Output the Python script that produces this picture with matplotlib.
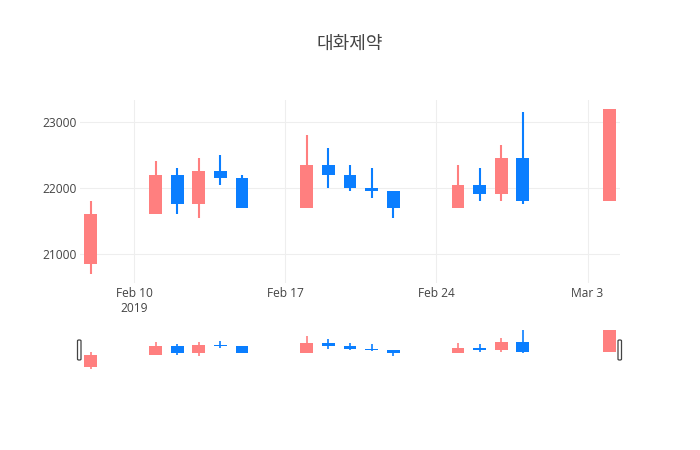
import matplotlib
matplotlib.use("Agg")
import matplotlib.pyplot as plt
import matplotlib.dates as mdates
from matplotlib.patches import FancyBboxPatch
import numpy as np
import datetime as dt

title = "대화제약"
dates = ["2019-02-08", "2019-02-11", "2019-02-12", "2019-02-13", "2019-02-14", "2019-02-15",
         "2019-02-18", "2019-02-19", "2019-02-20", "2019-02-21", "2019-02-22",
         "2019-02-25", "2019-02-26", "2019-02-27", "2019-02-28", "2019-03-04"]
opens = [20850, 21600, 22200, 21750, 22250, 22150,
         21700, 22350, 22200, 22000, 21950,
         21700, 22050, 21900, 22450, 21800]
highs = [21800, 22400, 22300, 22450, 22500, 22200,
         22800, 22600, 22350, 22300, 21950,
         22350, 22300, 22650, 23150, 23200]
lows = [20700, 21600, 21600, 21550, 22050, 21700,
        21700, 22000, 21950, 21850, 21550,
        21700, 21800, 21800, 21750, 21800]
closes = [21600, 22200, 21750, 22250, 22150, 21700,
          22350, 22200, 22000, 21950, 21700,
          22050, 21900, 22450, 21800, 23200]
yticks = [21000, 22000, 23000]
xtick_dates = ["2019-02-10", "2019-02-17", "2019-02-24", "2019-03-03"]
xtick_labels = ["Feb 10\n2019", "Feb 17", "Feb 24", "Mar 3"]

UP = "#FF7F7F"
DOWN = "#0A7EFF"
W, H = 700, 450

plt.rcParams['font.family'] = ['Open Sans', 'DejaVu Sans']

fig = plt.figure(figsize=(7, 4.5), dpi=100)
fig.patch.set_facecolor("white")

x = mdates.date2num([dt.datetime.strptime(d, "%Y-%m-%d") for d in dates])
o = np.array(opens); h = np.array(highs); l = np.array(lows); c = np.array(closes)
cols = [UP if cc >= oo else DOWN for oo, cc in zip(o, c)]
xmin = x[0] - 0.5
xmax = x[-1] + 0.5

def draw_candles(ax, lw):
    ax.vlines(x, l, h, colors=cols, linewidth=lw, zorder=2)
    ax.bar(x, np.abs(c - o), bottom=np.minimum(o, c), width=0.6, color=cols,
           linewidth=0, zorder=3)

# main axes
ax = fig.add_axes([80 / W, (H - 283) / H, 540 / W, 183 / H])
draw_candles(ax, 1.5)
ax.set_xlim(xmin, xmax)
ax.set_ylim(20560, 23330)
ax.set_yticks(yticks)
ax.set_yticklabels([str(v) for v in yticks])
xt = mdates.date2num([dt.datetime.strptime(d, "%Y-%m-%d") for d in xtick_dates])
ax.set_xticks(xt)
ax.set_xticklabels(xtick_labels, linespacing=1.15)
ax.grid(True, color="#eeeeee", linewidth=0.75, zorder=0)
ax.set_axisbelow(True)
for s in ax.spines.values():
    s.set_visible(False)
ax.tick_params(axis="both", length=0, labelsize=8.64, colors="#444444")
ax.tick_params(axis="y", pad=2)
ax.tick_params(axis="x", pad=3)

# range slider
sl = fig.add_axes([80 / W, (H - 370) / H, 540 / W, 40.5 / H])
draw_candles(sl, 1.2)
sl.set_xlim(xmin, xmax)
sl.set_ylim(20660, 23210)
sl.set_xticks([]); sl.set_yticks([])
for s in sl.spines.values():
    s.set_visible(False)

for gx in (77.5, 618):
    p = FancyBboxPatch((gx / W, (H - 360) / H), 3.5 / W, 20 / H,
                       boxstyle="round,pad=0,rounding_size=0.002",
                       transform=fig.transFigure, facecolor="white",
                       edgecolor="#444444", linewidth=0.9, zorder=10)
    fig.patches.append(p)

fig.text(350 / W, 1 - 44 / H, title, ha="center", va="center", fontsize=13,
         color="#444444", family=["Noto Sans CJK KR", "DejaVu Sans"])

fig.savefig("out.png", dpi=100, facecolor="white")
